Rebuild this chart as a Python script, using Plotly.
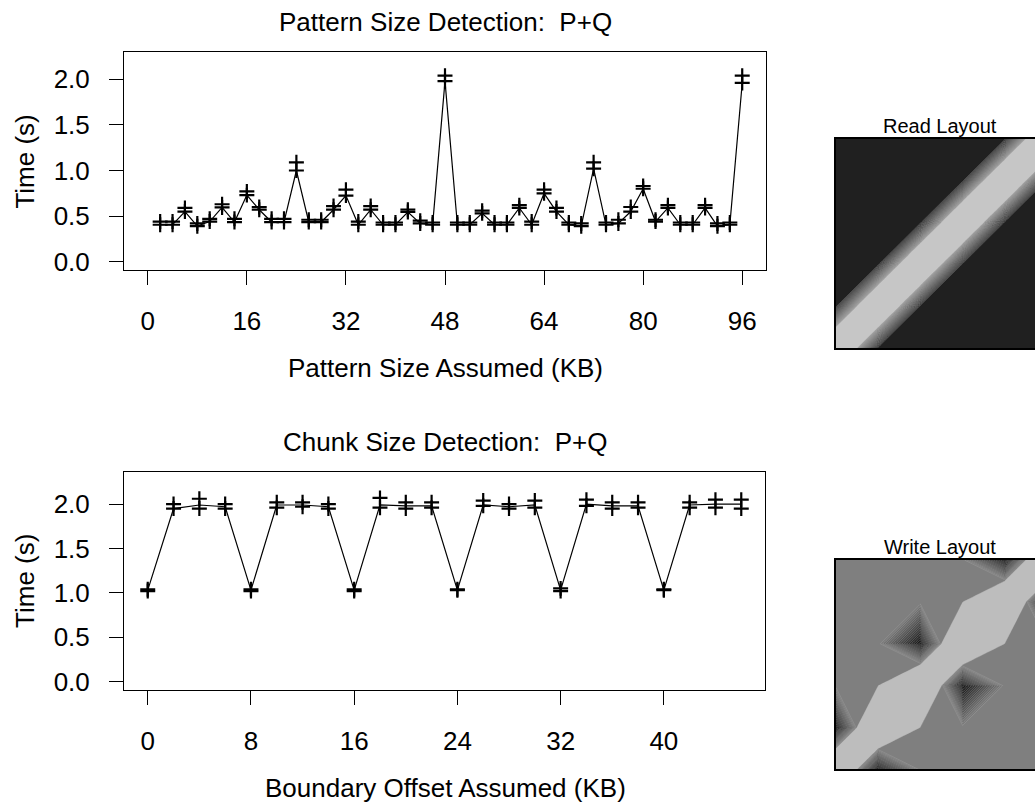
import plotly.graph_objects as go

# ---- Pattern size detection (P+Q) ----
pattern_kb = [2, 4, 6, 8, 10, 12, 14, 16, 18, 20, 22, 24, 26, 28, 30, 32,
              34, 36, 38, 40, 42, 44, 46, 48, 50, 52, 54, 56, 58, 60, 62, 64,
              66, 68, 70, 72, 74, 76, 78, 80, 82, 84, 86, 88, 90, 92, 94, 96]
pattern_time = [0.405, 0.405, 0.55, 0.39, 0.44, 0.595, 0.435, 0.73, 0.57, 0.435,
                0.435, 1.00, 0.435, 0.435, 0.57, 0.725, 0.405, 0.57, 0.405, 0.405,
                0.545, 0.42, 0.405, 1.98, 0.405, 0.405, 0.53, 0.405, 0.405, 0.59,
                0.405, 0.75, 0.55, 0.405, 0.39, 1.02, 0.405, 0.42, 0.55, 0.80,
                0.44, 0.59, 0.405, 0.405, 0.59, 0.39, 0.405, 1.96]
pattern_time_rep = [0.44, 0.44, 0.59, 0.42, 0.47, 0.63, 0.47, 0.77, 0.60, 0.47,
                    0.47, 1.09, 0.46, 0.46, 0.61, 0.79, 0.44, 0.61, 0.43, 0.43,
                    0.57, 0.45, 0.43, 2.04, 0.43, 0.43, 0.56, 0.43, 0.43, 0.62,
                    0.44, 0.79, 0.59, 0.43, 0.42, 1.09, 0.43, 0.46, 0.60, 0.83,
                    0.46, 0.62, 0.43, 0.43, 0.62, 0.42, 0.43, 2.04]

# ---- Chunk size detection (P+Q) ----
offset_kb = [0, 2, 4, 6, 8, 10, 12, 14, 16, 18, 20, 22,
             24, 26, 28, 30, 32, 34, 36, 38, 40, 42, 44, 46]
offset_time = [1.03, 1.95, 1.99, 1.97, 1.03, 1.99, 1.99, 1.97, 1.03, 1.99, 1.98, 1.98,
               1.03, 1.99, 1.97, 1.99, 1.03, 2.00, 1.98, 1.98, 1.03, 1.99, 2.00, 2.00]
offset_time_lo = [1.02, 1.95, 1.95, 1.95, 1.02, 1.96, 1.97, 1.95, 1.02, 1.96, 1.95, 1.96,
                  1.03, 1.98, 1.95, 1.96, 1.02, 1.98, 1.95, 1.96, 1.03, 1.96, 1.96, 1.95]
offset_time_hi = [1.04, 2.00, 2.06, 2.00, 1.04, 2.02, 2.02, 2.00, 1.04, 2.07, 2.02, 2.02,
                  1.04, 2.04, 2.00, 2.04, 1.05, 2.05, 2.02, 2.02, 1.04, 2.02, 2.05, 2.05]

time_ticks = [0.0, 0.5, 1.0, 1.5, 2.0]
time_tick_text = ["0.0", "0.5", "1.0", "1.5", "2.0"]
pattern_ticks = [0, 16, 32, 48, 64, 80, 96]
offset_ticks = [0, 8, 16, 24, 32, 40]

# ---- Layout maps (node grid, rows bottom -> top) ----
grid_nodes = [0, 1, 2, 3, 4, 5]
read_layout = [
    [0.95, 0.13, 0.13, 0.13, 0.13, 0.13],
    [0.13, 0.95, 0.13, 0.13, 0.13, 0.13],
    [0.13, 0.13, 0.95, 0.13, 0.13, 0.13],
    [0.13, 0.13, 0.13, 0.95, 0.13, 0.13],
    [0.13, 0.13, 0.13, 0.13, 0.95, 0.13],
    [0.13, 0.14, 0.13, 0.13, 0.13, 0.95],
]
write_layout = [
    [0.95, 0.06, 0.50, 0.50, 0.50, 0.50],
    [0.06, 0.95, 0.50, 0.50, 0.50, 0.50],
    [0.50, 0.50, 0.95, 0.06, 0.50, 0.50],
    [0.50, 0.50, 0.06, 0.95, 0.50, 0.50],
    [0.50, 0.50, 0.50, 0.50, 0.95, 0.06],
    [0.50, 0.50, 0.50, 0.50, 0.06, 0.95],
]

W, H = 1035, 809
FONT = "Liberation Sans, Arial, sans-serif"
BIG = 26


def fx(p):
    return p / W


def fy(p):
    return 1 - p / H


fig = go.Figure()

marker_style = dict(symbol="cross-thin", size=10.7, color="black",
                    line=dict(color="black", width=2.2))

# top panel
fig.add_trace(go.Scatter(x=pattern_kb, y=pattern_time, mode="lines",
                         line=dict(color="black", width=1.2), xaxis="x", yaxis="y",
                         showlegend=False, hoverinfo="skip"))
for ys in (pattern_time, pattern_time_rep):
    fig.add_trace(go.Scatter(x=pattern_kb, y=ys, mode="markers", marker=marker_style,
                             xaxis="x", yaxis="y", showlegend=False))

# bottom panel
fig.add_trace(go.Scatter(x=offset_kb, y=offset_time, mode="lines",
                         line=dict(color="black", width=1.2), xaxis="x2", yaxis="y2",
                         showlegend=False, hoverinfo="skip"))
for ys in (offset_time_lo, offset_time_hi):
    fig.add_trace(go.Scatter(x=offset_kb, y=ys, mode="markers", marker=marker_style,
                             xaxis="x2", yaxis="y2", showlegend=False))

# layout maps: filled contours; the top level stays below the saddle value of
# the diagonal cells so the diagonal ridge is drawn as one continuous band
hatch = dict(color="rgba(190,190,190,0.55)", width=0.5, smoothing=0)
fig.add_trace(go.Contour(
    x=grid_nodes, y=grid_nodes, z=read_layout,
    colorscale=[[0.0, "#202020"], [0.951, "#969696"], [1.0, "#c6c6c6"]],
    contours=dict(start=0.145, end=0.535, size=0.0195, coloring="fill"),
    line=hatch, showscale=False, xaxis="x3", yaxis="y3", hoverinfo="skip"))
fig.add_trace(go.Contour(
    x=grid_nodes, y=grid_nodes, z=write_layout,
    colorscale=[[0.0, "#141414"], [0.944, "#7f7f7f"], [1.0, "#bdbdbd"]],
    contours=dict(start=0.0775, end=0.5025, size=0.025, coloring="fill"),
    line=hatch, showscale=False, xaxis="x4", yaxis="y4", hoverinfo="skip"))

axis_common = dict(showline=True, mirror=True, linecolor="black", linewidth=1,
                   ticks="outside", ticklen=14, tickwidth=1, tickcolor="black",
                   showgrid=False, zeroline=False,
                   tickfont=dict(family=FONT, size=BIG, color="black"))

map_x = dict(range=[0, 5 * (W - 836) / 211], showline=True, mirror=True,
             linecolor="black", linewidth=1.5, showticklabels=False, ticks="",
             showgrid=False, zeroline=False)
map_y = dict(range=[0, 5], showline=True, mirror=False, linecolor="black",
             linewidth=1.5, showticklabels=False, ticks="", showgrid=False,
             zeroline=False)

fig.update_layout(
    width=W, height=H,
    margin=dict(l=0, r=0, t=0, b=0),
    paper_bgcolor="white", plot_bgcolor="white",
    font=dict(family=FONT, color="black"),
    xaxis=dict(domain=[fx(124), fx(766)], range=[-3.84, 99.84],
               tickvals=pattern_ticks, ticklabelstandoff=14, anchor="y", **axis_common),
    yaxis=dict(domain=[fy(272), fy(52)], range=[-0.087, 2.304],
               tickvals=time_ticks, ticktext=time_tick_text, ticklabelstandoff=14,
               anchor="x", **axis_common),
    xaxis2=dict(domain=[fx(124), fx(765)], range=[-1.84, 47.84],
                tickvals=offset_ticks, ticklabelstandoff=14, anchor="y2", **axis_common),
    yaxis2=dict(domain=[fy(696), fy(476)], range=[-0.095, 2.363],
                tickvals=time_ticks, ticktext=time_tick_text, ticklabelstandoff=14,
                anchor="x2", **axis_common),
    xaxis3=dict(domain=[fx(836), 1.0], anchor="y3", **map_x),
    yaxis3=dict(domain=[fy(351), fy(140)], anchor="x3", **map_y),
    xaxis4=dict(domain=[fx(836), 1.0], anchor="y4", **map_x),
    yaxis4=dict(domain=[fy(776), fy(565)], anchor="x4", **map_y),
)

texts = [
    ("Pattern Size Detection:\u00a0 P+Q", 445, 22, 0, BIG),
    ("Pattern Size Assumed (KB)", 445, 371, 0, BIG),
    ("Time (s)", 25, 163, -90, BIG),
    ("Chunk Size Detection:\u00a0 P+Q", 445, 446, 0, BIG),
    ("Boundary Offset Assumed (KB)", 445, 795, 0, BIG),
    ("Time (s)", 25, 586, -90, BIG),
    ("Read Layout", 940, 127, 0, 20),
    ("Write Layout", 940, 552, 0, 20),
]
for t, x, y, ang, sz in texts:
    fig.add_annotation(text=t, x=fx(x), y=fy(y), xref="paper", yref="paper",
                       xanchor="center", yanchor="middle", showarrow=False,
                       textangle=ang, font=dict(family=FONT, size=sz, color="black"))

fig.write_html("out.html")
